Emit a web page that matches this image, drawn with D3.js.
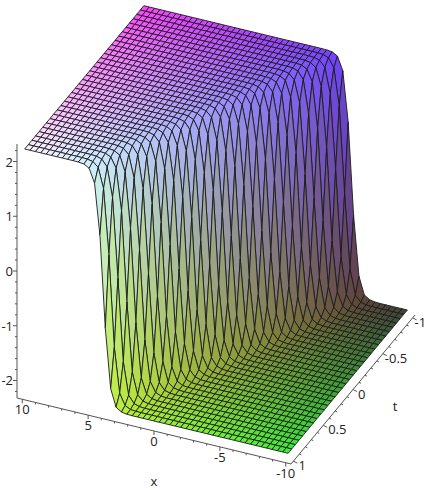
<!DOCTYPE html>
<html><head><meta charset="utf-8">
<style>html,body{margin:0;padding:0;background:#fff}svg{display:block}text{font-family:"Open Sans",sans-serif;font-size:13px;fill:#222}</style>
<script src="https://cdn.jsdelivr.net/npm/d3@7"></script>
</head><body><div id="c"></div>
<script>
// --- data ---
const xTicks = [10, 5, 0, -5, -10];
const tTicks = [1, 0.5, 0, -0.5, -1];
const zTicks = [2, 1, 0, -1, -2];
const xDomain = [10.4, -10.4];
const tDomain = [1.04, -1.04];
const zDomain = [-2.32, 2.32];
const xCells = 49, tCells = 33;
// height of the travelling front against distance from its centre
const frontOffset = [-2, -1.5, -1.2, -1, -0.8, -0.7, -0.6, -0.5, -0.4, -0.3, -0.2, -0.1, 0, 0.1, 0.2, 0.3, 0.4, 0.5, 0.6, 0.7, 0.8, 1, 1.2, 1.5, 2];
const frontHeight = [-2.2, -2.19, -2.16, -2.12, -2.03, -1.95, -1.83, -1.68, -1.46, -1.18, -0.83, -0.44, 0, 0.44, 0.83, 1.18, 1.46, 1.68, 1.83, 1.95, 2.03, 2.12, 2.16, 2.19, 2.2];
// position of the front centre at several times
const frontT = [-1, -0.5, 0, 0.5, 1];
const frontX = [-5.75, -3.3, -0.85, 1.6, 4.05];

const W = 425, H = 490;
const svg = d3.select("#c").append("svg").attr("width", W).attr("height", H);

// oblique projection built from three axis scales
const xPx = d3.scaleLinear().domain(xDomain).range([0, 1]);
const tPx = d3.scaleLinear().domain(tDomain).range([0, 1]);
const zPx = d3.scaleLinear().domain(zDomain).range([398, 144]);
const xVec = [274, 66], tVec = [124, -149];
const proj = (x, t, z) => [
  17 + xPx(x) * xVec[0] + tPx(t) * tVec[0],
  zPx(z) + xPx(x) * xVec[1] + tPx(t) * tVec[1]
];

const front = d3.scaleLinear().domain(frontOffset).range(frontHeight).clamp(true);
const centre = d3.scaleLinear().domain(frontT).range(frontX);
const height = (x, t) => front(x - centre(t));

const xGrid = d3.range(xCells + 1).map(i => 10 - 20 * i / xCells);
const tGrid = d3.range(tCells + 1).map(j => -1 + 2 * j / tCells);

const rC = d3.scaleLinear().domain([-10, 10]).range([60, 255]);
const gC = d3.scaleLinear().domain([-1, 1]).range([65, 240]);
const bC = d3.scaleLinear().domain([-2.2, 2.2]).range([55, 255]);

const quads = [];
tGrid.slice(0, -1).forEach((t, j) => {
  xGrid.slice(0, -1).forEach((x, i) => {
    const x2 = xGrid[i + 1], t2 = tGrid[j + 1];
    const mx = (x + x2) / 2, mt = (t + t2) / 2;
    quads.push({
      p: [[x, t], [x2, t], [x2, t2], [x, t2]].map(([a, b]) => proj(a, b, height(a, b))),
      c: d3.rgb(rC(mx), gC(mt), bC((height(x, t) + height(x2, t) + height(x2, t2) + height(x, t2)) / 4)).formatHex()
    });
  });
});

svg.append("g").selectAll("path").data(quads).join("path")
  .attr("d", d => "M" + d.p.map(q => q[0].toFixed(2) + "," + q[1].toFixed(2)).join("L") + "Z")
  .attr("fill", d => d.c)
  .attr("stroke", "#1c1c1c").attr("stroke-width", 1).attr("stroke-opacity", 0.9)
  .attr("stroke-linejoin", "round");

// axes
const ax = svg.append("g").attr("stroke", "#555").attr("fill", "none");
const line = (a, b, w = 1) => ax.append("line").attr("x1", a[0]).attr("y1", a[1]).attr("x2", b[0]).attr("y2", b[1]).attr("stroke-width", w);
const zx = xDomain[0], zt = tDomain[0];
line(proj(zx, zt, zDomain[0]), proj(zx, zt, zDomain[1]));
line(proj(xDomain[0], zt, zDomain[0]), proj(xDomain[1], zt, zDomain[0]));
line(proj(xDomain[1], tDomain[0], zDomain[0]), proj(xDomain[1], tDomain[1], zDomain[0]));

d3.range(-22, 23, 2).forEach(v => {
  const z = v / 10, p = proj(zx, zt, z), major = v % 10 === 0;
  line(p, [p[0] - (major ? 4 : 2), p[1]]);
});
d3.range(-10, 11, 1).forEach(x => {
  const p = proj(x, zt, zDomain[0]), major = x % 5 === 0;
  line(p, [p[0], p[1] + (major ? 4 : 2)]);
});
d3.range(-10, 11, 1).forEach(v => {
  const t = v / 10, p = proj(xDomain[1], t, zDomain[0]), major = v % 5 === 0;
  line(p, [p[0] + (major ? 4 : 2), p[1] + (major ? 2 : 1)]);
});

const lab = svg.append("g");
zTicks.forEach(z => {
  const p = proj(zx, zt, z);
  lab.append("text").attr("x", 13).attr("y", p[1] + 5).attr("text-anchor", "end").text(z);
});
xTicks.forEach(x => {
  const p = proj(x, zt, zDomain[0]);
  lab.append("text").attr("x", p[0]).attr("y", p[1] + 15).attr("text-anchor", "middle").text(x);
});
tTicks.forEach(t => {
  const p = proj(xDomain[1], t, zDomain[0]);
  lab.append("text").attr("x", p[0] + (t < 0 ? 2 : 5)).attr("y", p[1] + 9).text(t);
});
lab.append("text").attr("x", 154).attr("y", 486).attr("text-anchor", "middle").text("x");
lab.append("text").attr("x", 395).attr("y", 411).attr("text-anchor", "middle").text("t");
</script></body></html>
